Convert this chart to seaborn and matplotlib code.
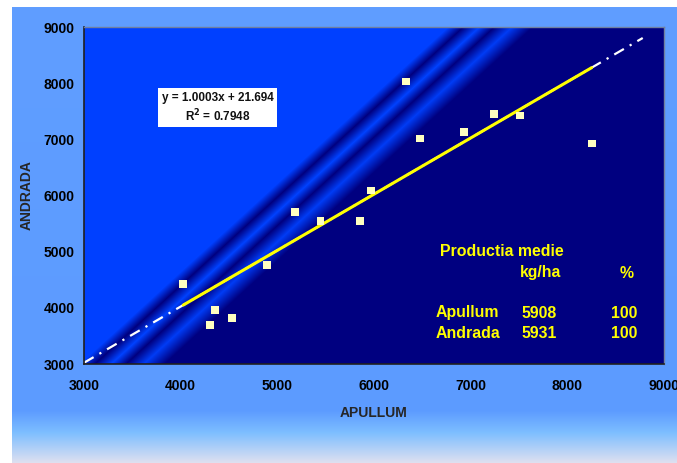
import numpy as np
import pandas as pd
import seaborn as sns
import matplotlib.pyplot as plt

# data
apullum = [4027, 4303, 4357, 4530, 4891, 5180, 5447, 5852, 5972, 6333, 6480, 6934, 7245, 7508, 8251]
andrada = [4418, 3688, 3967, 3812, 4756, 5710, 5550, 5539, 6090, 8030, 7016, 7123, 7454, 7425, 6927]
slope = 1.0003
intercept = 21.694
r2 = 0.7948
ext_range = [3000, 8780]
ticks = [3000, 4000, 5000, 6000, 7000, 8000, 9000]
soiuri = ['Apullum', 'Andrada']
prod_medie = [5908, 5931]
procent = [100, 100]

df = pd.DataFrame({'APULLUM': apullum, 'ANDRADA': andrada})

sns.set_style('white')
plt.rcParams['font.family'] = ['Liberation Sans', 'DejaVu Sans']
plt.rcParams['font.weight'] = 'bold'

W, H = 677, 463
fig = plt.figure(figsize=(W / 100, H / 100), dpi=100)
fig.patch.set_facecolor('white')

# outer blue gradient background
bg = fig.add_axes([12 / W, 0, 1 - 12 / W, (H - 7) / H])
rows = np.arange(7, H)
r = np.interp(rows, [7, 410, 432, 463], [96, 92, 125, 225])
g = np.interp(rows, [7, 410, 432, 463], [158, 155, 190, 225])
b = np.interp(rows, [7, 410, 432, 463], [255, 255, 255, 240])
grad = np.stack([r, g, b], axis=1)[:, None, :] / 255.0
bg.imshow(np.repeat(grad, 10, axis=1), aspect='auto', extent=(0, 1, 0, 1))
bg.axis('off')

# main plot area
L, T, R, B = 84, 27, 664, 364
ax = fig.add_axes([L / W, (H - B) / H, (R - L) / W, (B - T) / H])

# diagonal striped fill of the plot area
jj, ii = np.meshgrid(np.arange(L, R), np.arange(T, B))
s = 0.675 * jj + 0.738 * ii
stops = [0, 322, 332, 343, 353, 365, 379, 2000]
gc = np.interp(s, stops, [64, 64, 0, 66, 0, 60, 0, 0])
bc = np.interp(s, stops, [255, 255, 128, 255, 128, 245, 128, 128])
img = np.stack([np.zeros_like(gc), gc, bc], axis=2) / 255.0
ax.imshow(img, extent=(3000, 9000, 3000, 9000), aspect='auto', origin='upper', zorder=0)

# extended trend (white dash-dot) and fitted trend (yellow)
ext_x = np.array(ext_range)
ax.plot(ext_x, slope * ext_x + intercept, color='white', lw=1.6,
        linestyle=(0, (5, 3, 1, 3)), zorder=2)
fit = pd.DataFrame({'x': [min(apullum), max(apullum)]})
fit['y'] = slope * fit['x'] + intercept
sns.lineplot(data=fit, x='x', y='y', color='#FFFF00', lw=2.2, ax=ax, zorder=3)

sns.scatterplot(data=df, x='APULLUM', y='ANDRADA', marker='s', s=32,
                color='#FFFFC0', edgecolor='none', ax=ax, zorder=4)

ax.set_xlim(3000, 9000)
ax.set_ylim(3000, 9000)
ax.set_xticks(ticks)
ax.set_yticks(ticks)
ax.tick_params(axis='both', direction='out', length=3, width=1, colors='#202020',
               labelsize=10, labelcolor='black')
ax.tick_params(axis='x', pad=8)
ax.tick_params(axis='y', pad=4)
for lab in ax.get_xticklabels() + ax.get_yticklabels():
    lab.set_fontweight('bold')
ax.set_xlabel('APULLUM', fontsize=10, fontweight='bold', labelpad=9)
ax.set_ylabel('ANDRADA', fontsize=10, fontweight='bold', labelpad=7)
for side in ['left', 'bottom']:
    ax.spines[side].set_color('#202020')
    ax.spines[side].set_linewidth(1.2)
for side in ['top', 'right']:
    ax.spines[side].set_color('#7080a0')
    ax.spines[side].set_linewidth(1.0)

# equation box
def axf(px, py):
    return (px - L) / (R - L), (B - py) / (B - T)

ax.add_patch(plt.Rectangle(axf(158, 127), 119 / (R - L), 39 / (B - T),
                           transform=ax.transAxes, facecolor='white', edgecolor='none', zorder=5))
ax.text(*axf(217.5, 98), 'y = %.4fx + %.3f' % (slope, intercept), transform=ax.transAxes,
        ha='center', va='center', fontsize=8.5, fontweight='bold', color='#111111', zorder=6)
ax.text(*axf(217.5, 116), 'R$^2$ = %.4f' % r2, transform=ax.transAxes,
        ha='center', va='center', fontsize=8.5, fontweight='bold', color='#111111', zorder=6)

# yield table
yel = '#FFFF00'
tkw = dict(transform=ax.transAxes, fontsize=11.4, fontweight='bold', color=yel, va='center', zorder=6)
ax.text(*axf(440, 252), 'Productia medie', ha='left', **tkw)
ax.text(*axf(541, 273), 'kg/ha', ha='center', **tkw)
ax.text(*axf(627, 273), '%', ha='center', **tkw)
for k, (nume, val, pct) in enumerate(zip(soiuri, prod_medie, procent)):
    yy = 313 + 20 * k
    ax.text(*axf(436, yy), nume, ha='left', **tkw)
    ax.text(*axf(539.5, yy), str(val), ha='center', **tkw)
    ax.text(*axf(624.5, yy), str(pct), ha='center', **tkw)

fig.savefig('out.png', dpi=100)
